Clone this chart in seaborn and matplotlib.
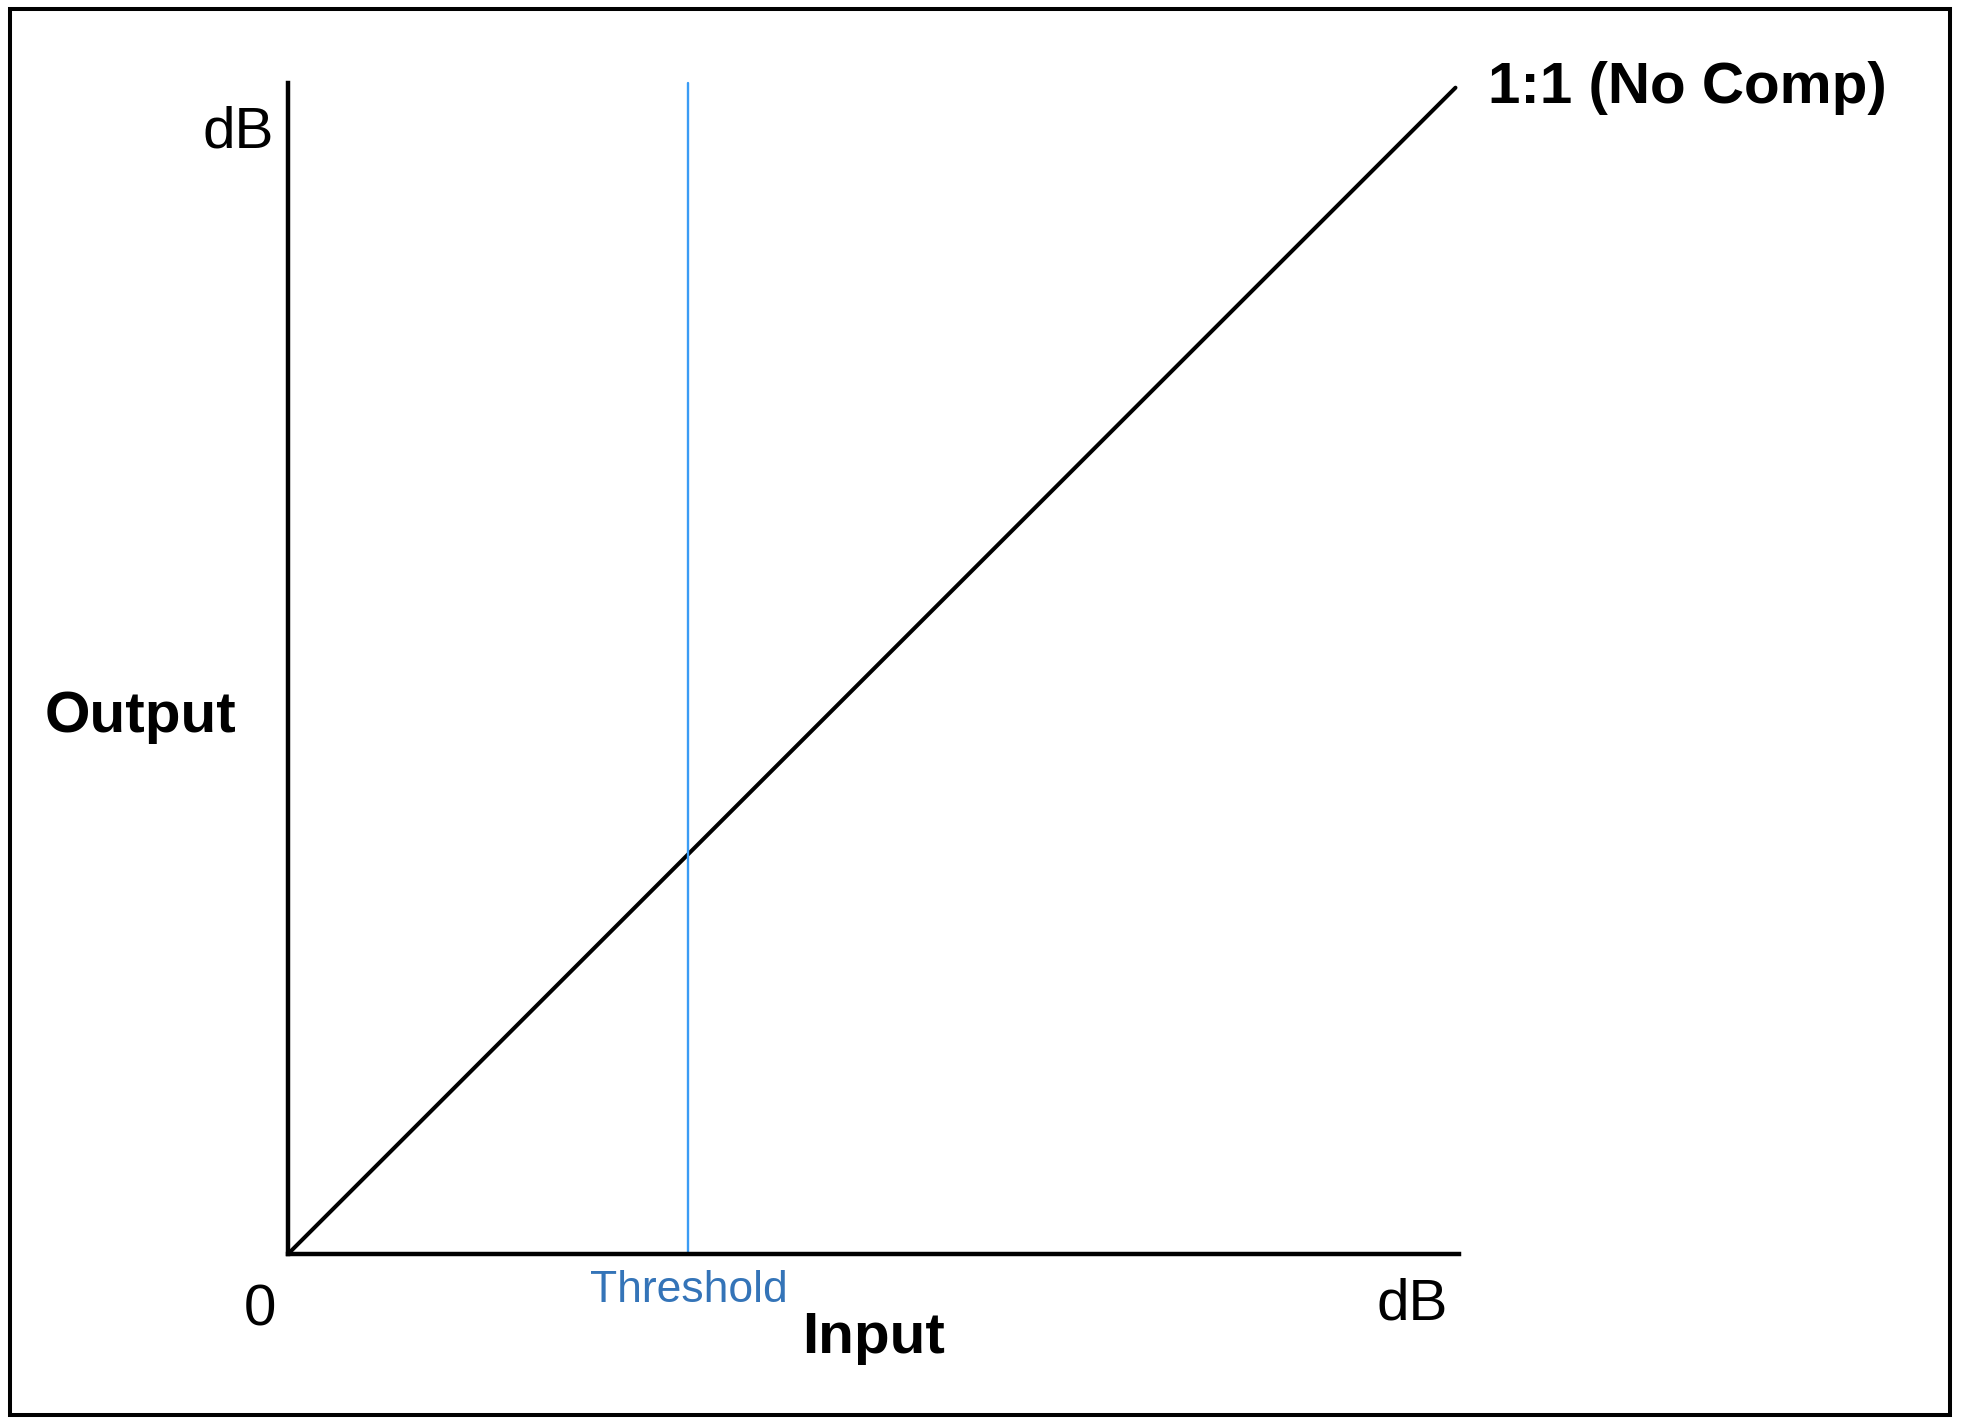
import matplotlib
matplotlib.use("Agg")
import matplotlib.pyplot as plt
import matplotlib.patches as mpatches
import seaborn as sns
import pandas as pd

# ---- data ----
input_db = [0, 99.7]
output_db = [0, 99.6]
threshold_db = 34.2
curve_label = "1:1 (No Comp)"
x_label = "Input"
y_label = "Output"
unit_label = "dB"
origin_label = "0"
threshold_label = "Threshold"

sns.set_theme(style="white")
plt.rcParams['font.family'] = ['Liberation Sans', 'DejaVu Sans']

fig = plt.figure(figsize=(19.64, 14.26), dpi=100)
fig.patch.set_facecolor("white")
ax = fig.add_axes([288/1964, (1426-1254)/1426, 1171/1964, 1171/1426])
ax.set_xlim(0, 100)
ax.set_ylim(0, 100)

df = pd.DataFrame({"Input": input_db, "Output": output_db})
sns.lineplot(data=df, x="Input", y="Output", ax=ax, color="black", linewidth=2.9, clip_on=False)
ax.axvline(threshold_db, ymin=0, ymax=1, color="#3a9cf5", linewidth=1.7, clip_on=False)

for s in ["top", "right"]:
    ax.spines[s].set_visible(False)
for s in ["left", "bottom"]:
    ax.spines[s].set_color("black")
    ax.spines[s].set_linewidth(3.2)
ax.set_xticks([])
ax.set_yticks([])
ax.set_xlabel("")
ax.set_ylabel("")
ax.set_facecolor("white")

fs = 42
ax.text(-1.2, 95.8, unit_label, ha="right", va="center", fontsize=fs, color="black")
ax.text(-20.75, 44.55, y_label, ha="left", va="baseline", fontsize=fs, fontweight="bold", color="black")
ax.text(-2.4, -6.1, origin_label, ha="center", va="baseline", fontsize=fs, color="black")
ax.text(threshold_db, -4.1, threshold_label, ha="center", va="baseline", fontsize=32, color="#3474b8")
ax.text(50.0, -8.45, x_label, ha="center", va="baseline", fontsize=fs, fontweight="bold", color="black")
ax.text(96.0, -5.6, unit_label, ha="center", va="baseline", fontsize=fs, color="black")
ax.text(102.5, 98.3, curve_label, ha="left", va="baseline", fontsize=fs, fontweight="bold", color="black")

frame = mpatches.Rectangle((10/1964, 11/1426), 1940/1964, 1406/1426, transform=fig.transFigure,
                           fill=False, edgecolor="black", linewidth=2.9)
fig.patches.append(frame)

fig.savefig("out.png", dpi=100, facecolor="white")
